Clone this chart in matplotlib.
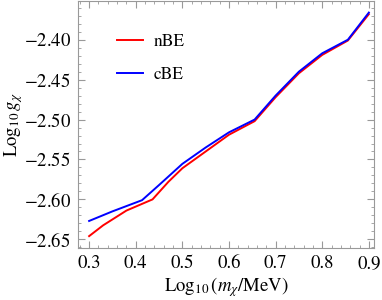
import numpy as np
import matplotlib
matplotlib.use("Agg")
import matplotlib.pyplot as plt
from matplotlib.ticker import MultipleLocator, FuncFormatter

plt.rcParams['font.family'] = ['STIXGeneral', 'Liberation Serif', 'DejaVu Serif']
plt.rcParams['mathtext.fontset'] = 'stix'

# data
x_nbe = [0.30, 0.33, 0.38, 0.436, 0.47, 0.50, 0.55, 0.60, 0.655, 0.70, 0.75, 0.80, 0.855, 0.90]
y_nbe = [-2.646, -2.6325, -2.614, -2.600, -2.578, -2.561, -2.540, -2.519, -2.502,
         -2.472, -2.442, -2.419, -2.401, -2.368]
x_cbe = [0.30, 0.35, 0.4135, 0.45, 0.50, 0.55, 0.60, 0.655, 0.70, 0.75, 0.80, 0.855, 0.90]
y_cbe = [-2.627, -2.615, -2.601, -2.582, -2.5555, -2.535, -2.516, -2.500,
         -2.470, -2.440, -2.417, -2.400, -2.366]

fig = plt.figure(figsize=(3.82, 3.0), dpi=100)
ax = fig.add_axes([0.204, 0.173, 0.775, 0.825])

ax.plot(x_nbe, y_nbe, color='#ff0000', lw=1.4, label='nBE')
ax.plot(x_cbe, y_cbe, color='#0000ff', lw=1.4, label='cBE')

ax.set_xlim(0.276, 0.911)
ax.set_ylim(-2.661, -2.351)
ax.xaxis.set_major_locator(MultipleLocator(0.1))
ax.xaxis.set_minor_locator(MultipleLocator(0.02))
ax.yaxis.set_major_locator(MultipleLocator(0.05))
ax.yaxis.set_minor_locator(MultipleLocator(0.01))
ax.xaxis.set_major_formatter(FuncFormatter(lambda v, p: '%.1f' % v))
ax.yaxis.set_major_formatter(FuncFormatter(lambda v, p: r'$-$%.2f' % abs(v)))

gray = '#999999'
for s in ax.spines.values():
    s.set_color(gray)
ax.tick_params(which='both', direction='in', top=True, right=True, color=gray,
               labelsize=13.5, labelcolor='black', pad=5)
ax.tick_params(which='major', length=5)
ax.tick_params(which='minor', length=2.5)

ax.set_xlabel(r'$\mathrm{Log}_{10}\,(m_\chi/\mathrm{MeV})$', fontsize=13.5, labelpad=2)
ax.set_ylabel(r'$\mathrm{Log}_{10}\,g_\chi$', fontsize=13.5)
ax.yaxis.set_label_coords(-0.18, 0.5)

ax.legend(loc='upper left', bbox_to_anchor=(0.08, 0.93), frameon=False, fontsize=12.5,
          handlelength=1.5, handletextpad=0.6, labelspacing=1.0)

fig.savefig('out.png', dpi=100)
